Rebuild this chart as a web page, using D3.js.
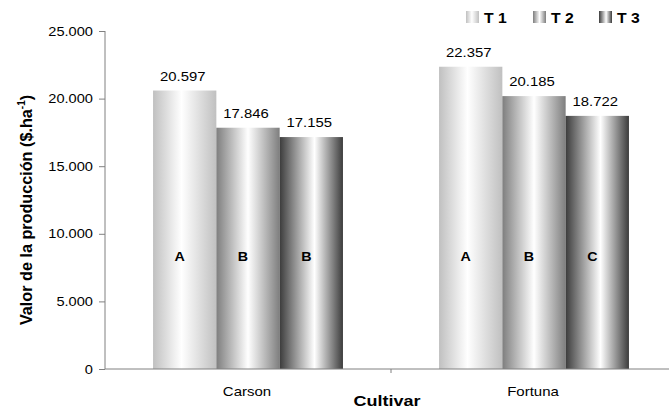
<!DOCTYPE html>
<html><head><meta charset="utf-8">
<script src="https://cdn.jsdelivr.net/npm/d3@7"></script>
<style>body{margin:0;background:#fff}svg{display:block;font-family:"Liberation Sans",Arial,sans-serif}</style>
</head><body><svg id="c" width="669" height="409"></svg>
<script>
const categories = ["Carson", "Fortuna"];
const seriesNames = ["T 1", "T 2", "T 3"];
const T1 = [20597, 22357];
const T2 = [17846, 20185];
const T3 = [17155, 18722];
const letters1 = ["A", "A"];
const letters2 = ["B", "B"];
const letters3 = ["B", "C"];
const yTicks = [0, 5000, 10000, 15000, 20000, 25000];

const seriesVals = [T1, T2, T3];
const seriesLetters = [letters1, letters2, letters3];
const edgeColors = ["#c0c0c0", "#7e7e7e", "#3c3c3c"];
const whitePos = ["45%", "50%", "55%"];

const svg = d3.select("#c");
const loc = d3.formatLocale({decimal: ",", thousands: ".", grouping: [3], currency: ["$", ""]});
const fmt = loc.format(",");

const pL = 105, pR = 677, pT = 31, pB = 369;
const x0 = d3.scaleBand().domain(categories).range([pL, pR]).paddingInner(0.336).paddingOuter(0.168);
const x1 = d3.scaleBand().domain(seriesNames).range([0, x0.bandwidth()]).padding(0);
const y = d3.scaleLinear().domain([0, 25000]).range([pB, pT]);

function sText(x, yy, txt, size, weight, sx, anchor) {
  const g = svg.append("g").attr("transform", `translate(${x},${yy}) scale(${sx},1)`);
  g.append("text").attr("text-anchor", anchor || "middle").attr("font-size", size)
    .attr("font-weight", weight || "normal").attr("fill", "#000").text(txt);
  return g;
}

const defs = svg.append("defs");
seriesNames.forEach((s, i) => {
  const g = defs.append("linearGradient").attr("id", "g" + i).attr("x1", "0%").attr("x2", "100%").attr("y1", "0%").attr("y2", "0%");
  g.append("stop").attr("offset", "0%").attr("stop-color", edgeColors[i]);
  g.append("stop").attr("offset", whitePos[i]).attr("stop-color", "#ffffff");
  g.append("stop").attr("offset", "100%").attr("stop-color", edgeColors[i]);
});

// bars
categories.forEach((c, ci) => {
  seriesNames.forEach((s, si) => {
    const v = seriesVals[si][ci];
    const bx = x0(c) + x1(s);
    svg.append("rect").attr("x", bx).attr("y", y(v)).attr("width", x1.bandwidth()).attr("height", y(0) - y(v))
      .attr("fill", `url(#g${si})`);
    sText(bx + x1.bandwidth() / 2 - 2, y(v) - 10, fmt(v), 13.5, "normal", 1.1);
    sText(bx + x1.bandwidth() / 2 - 5, y(8000), seriesLetters[si][ci], 13, "bold", 1.1);
  });
});

// y axis
const yAxis = svg.append("g").attr("transform", `translate(${pL},0)`)
  .call(d3.axisLeft(y).tickValues(yTicks).tickFormat("").tickSize(6));
yAxis.select(".domain").attr("stroke", "#808080").attr("d", `M-0,${pT}V${pB}`);
yAxis.selectAll(".tick line").attr("stroke", "#808080");
yTicks.forEach(t => sText(pL - 12, y(t) + 4.5, fmt(t), 12.5, "normal", 1.17, "end"));

// x axis
svg.append("line").attr("x1", pL).attr("x2", 669).attr("y1", pB).attr("y2", pB).attr("stroke", "#808080");
const mid = (x0(categories[0]) + x0.bandwidth() + x0(categories[1])) / 2;
svg.append("line").attr("x1", mid).attr("x2", mid).attr("y1", pB).attr("y2", pB + 4).attr("stroke", "#808080");
categories.forEach(c => sText(x0(c) + x0.bandwidth() / 2 - 1, 395.5, c, 12.5, "normal", 1.2));
sText((pL + 669) / 2, 406, "Cultivar", 15, "bold", 1.2);

// y title
const yt = svg.append("text").attr("transform", `translate(32,210) rotate(-90)`)
  .attr("text-anchor", "middle").attr("font-size", 16.2).attr("font-weight", "bold");
yt.append("tspan").text("Valor de la producción ($.ha");
yt.append("tspan").attr("dy", -7).attr("font-size", 10).text("-1");
yt.append("tspan").attr("dy", 7).text(")");

// legend
const legX = [466, 533, 599];
seriesNames.forEach((s, i) => {
  svg.append("rect").attr("x", legX[i]).attr("y", 11).attr("width", 13).attr("height", 12).attr("fill", `url(#g${i})`);
  sText(legX[i] + 18, 23, s, 15, "bold", 1.05, "start");
});
</script></body></html>
